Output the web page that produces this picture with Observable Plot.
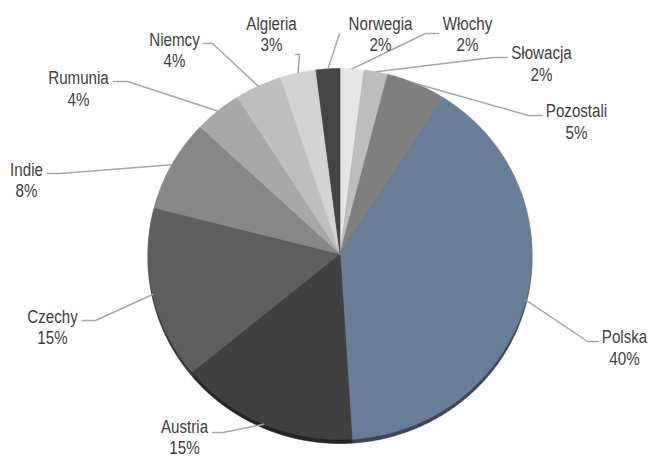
<!DOCTYPE html>
<html>
<head>
<meta charset="utf-8">
<script src="https://cdn.jsdelivr.net/npm/d3@7"></script>
<script src="https://cdn.jsdelivr.net/npm/@observablehq/plot@0.6"></script>
<style>
  html, body { margin: 0; padding: 0; background: #fff; }
  #chart svg { display: block; }
</style>
</head>
<body>
<div id="chart"></div>
<script>
// ---- data (clockwise from 12 o'clock) ----
const countries = ["Włochy", "Słowacja", "Pozostali", "Polska", "Austria", "Czechy", "Indie", "Rumunia", "Niemcy", "Algieria", "Norwegia"];
const shares    = [2, 2, 5, 40, 15, 15, 8, 4, 4, 3, 2];
const colors    = ["#e6e6e6", "#bdbdbd", "#7f7f7f", "#677d98", "#404040", "#5e5e5e", "#878787", "#a8a8a8", "#bebebe", "#d3d3d3", "#444444"];

// ---- layout (chart coordinates) ----
const cx = 339.5, cy = 253.5, rx = 192, ry = 185.5;
const labelX = [467, 541, 576, 624, 184, 52, 26, 78, 174, 271, 380];
const labelY = [33, 62.5, 120.5, 346.5, 436, 326, 179, 87.5, 49, 33, 33];
const elbowX = [425, 493, 528, 587, 223, 95, 60, 127, 212, 299, 339];
const elbowY = [33, 57, 115, 341, 432, 320, 173, 81, 43, 54, 33];
const endX   = [438, 507, 542, 598, 212, 82, 47, 113, 203, 295, 339];

const total = d3.sum(shares);
const pt = (a, k = 1) => ({x: cx + k * rx * Math.sin(a), y: cy - k * ry * Math.cos(a)});

// slice polygons
const slices = [];
let acc = 0;
const mids = [];
countries.forEach((name, i) => {
  const a0 = acc / total * 2 * Math.PI;
  acc += shares[i];
  const a1 = acc / total * 2 * Math.PI;
  mids.push((a0 + a1) / 2);
  const n = Math.max(4, Math.ceil((a1 - a0) / (Math.PI / 360)));
  slices.push({name, color: colors[i], x: cx, y: cy});
  for (let j = 0; j <= n; j++) {
    const p = pt(a0 + (a1 - a0) * j / n);
    slices.push({name, color: colors[i], x: p.x, y: p.y});
  }
  slices.push({name, color: colors[i], x: cx, y: cy});
});
const shadow = slices.map(d => ({...d, color: d3.color(d.color).darker(1.6).formatHex()}));

// leader lines
const leaders = [];
countries.forEach((name, i) => {
  const p = pt(mids[i]);
  leaders.push({name, x: p.x, y: p.y});
  leaders.push({name, x: elbowX[i], y: elbowY[i]});
  leaders.push({name, x: endX[i], y: elbowY[i]});
});

const labels = countries.map((name, i) => ({
  text: name + "\n" + shares[i] + "%",
  x: labelX[i], y: labelY[i]
}));

const chart = Plot.plot({
  width: 657,
  height: 461,
  margin: 0,
  x: {domain: [0, 657], range: [0, 657], axis: null},
  y: {domain: [0, 461], range: [0, 461], axis: null},
  color: {type: "identity"},
  style: {fontFamily: "'Liberation Sans Narrow', 'Arial Narrow', 'Liberation Sans', Arial, sans-serif", background: "#fff"},
  marks: [
    Plot.line(shadow, {x: "x", y: "y", z: "name", fill: "color", stroke: "color", strokeWidth: 0.6, dy: 4, curve: "linear"}),
    Plot.line(slices, {x: "x", y: "y", z: "name", fill: "color", stroke: "color", strokeWidth: 0.6, curve: "linear"}),
    Plot.line(leaders, {x: "x", y: "y", z: "name", stroke: "#a6a6a6", strokeWidth: 1.5, curve: "linear"}),
    Plot.text(labels, {x: "x", y: "y", text: "text", fill: "#404040", fontSize: 18, lineHeight: 1.2, textAnchor: "middle", lineAnchor: "middle"})
  ]
});
document.getElementById("chart").appendChild(chart);

// emulate a narrow (condensed) face by compressing glyphs horizontally
chart.querySelectorAll("text tspan").forEach(t => {
  const w = t.getComputedTextLength();
  if (w > 0) {
    t.setAttribute("textLength", (w * 0.84).toFixed(1));
    t.setAttribute("lengthAdjust", "spacingAndGlyphs");
  }
});
</script>
</body>
</html>
